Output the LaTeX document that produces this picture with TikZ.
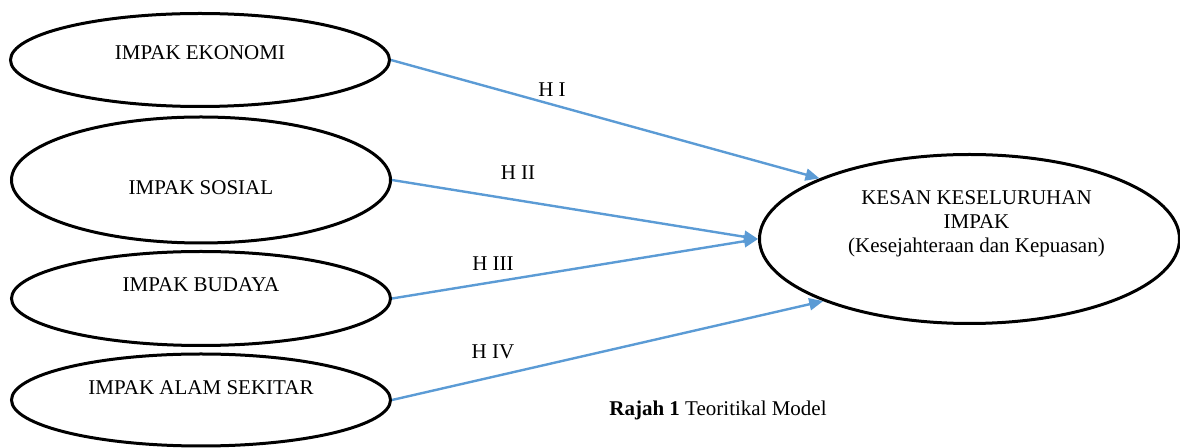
\documentclass[tikz,border=0pt]{standalone}
\usepackage{fontspec}
\setmainfont{Liberation Serif}
\usetikzlibrary{shapes.geometric,arrows.meta}
\definecolor{hypblue}{RGB}{91,155,213}

\begin{document}
\begin{tikzpicture}
      [x=0.5pt,y=-0.5pt,
       font=\fontsize{10.5}{12}\selectfont,
       impak/.style={ellipse,draw,line width=1.5pt,inner sep=0pt,minimum width=189.5pt},
       hyp/.style={draw=hypblue,line width=1.2pt,-{Triangle[length=7pt,width=6pt]}}]
      \useasboundingbox (0,0) rectangle (1180,448);

      \node [impak,minimum height=46.5pt,label={[yshift=3.5pt]center:IMPAK EKONOMI}] (eko) at (200,60) {};
      \node [impak,minimum height=63pt,label={[yshift=-4pt]center:IMPAK SOSIAL}] (sosial) at (201,180) {};
      \node [impak,minimum height=47pt,label={[yshift=6.75pt]center:IMPAK BUDAYA}] (budaya) at (201,298.5) {};
      \node [impak,minimum height=46pt,label={[yshift=6pt]center:IMPAK ALAM SEKITAR}] (alam) at (201,400) {};
      \node [impak,minimum width=210pt,minimum height=84.5pt,
             label={[align=center,xshift=3.5pt,yshift=7.5pt]center:KESAN KESELURUHAN\\IMPAK\\(Kesejahteraan dan Kepuasan)}] (kesan) at (969.5,239) {};

      \foreach \from/\to in {eko/158, sosial/180, budaya/180, alam/203}
      \draw [hyp] (\from.east) -- (kesan.\to);

      \node (h1) at (552,90) {H I};
      \node (h2) at (518,173) {H II};
      \node (h3) at (493,264) {H III};
      \node (h4) at (493,352) {H IV};

      \node (caption) at (718,410) {\textbf{Rajah 1} Teoritikal Model};
    \end{tikzpicture}
\end{document}
